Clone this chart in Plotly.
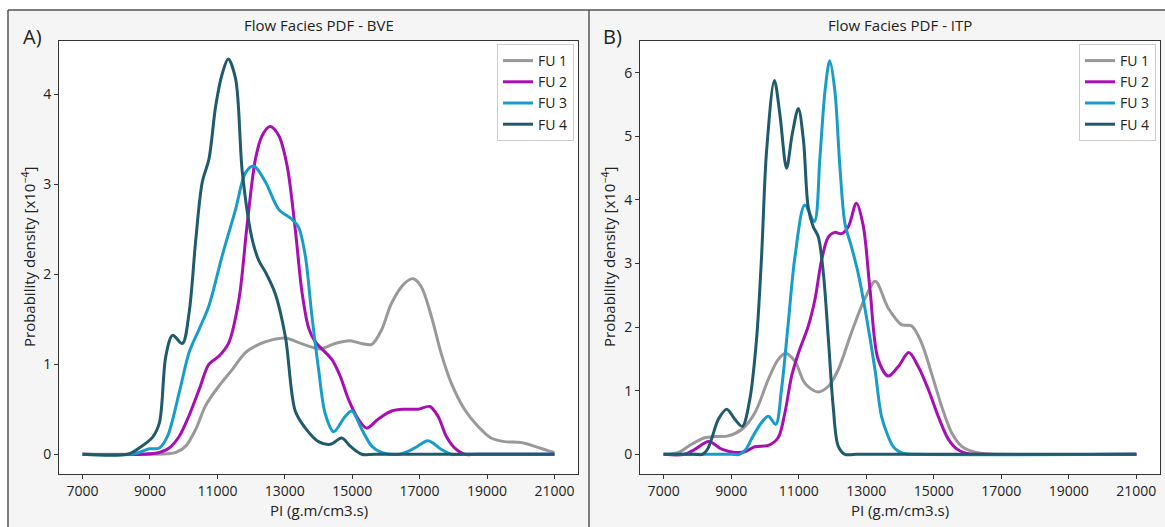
import plotly.graph_objects as go

W, H = 1165, 527

# ---------------- BVE (panel A) ----------------
bve_fu1_x = [7000, 9000, 9500, 9770, 10060, 10360, 10650, 11050, 11440, 11840, 12230, 12620, 13020,
             13410, 13800, 14050, 14490, 14940, 15280, 15580, 15870, 16170, 16560, 16810, 17050,
             17350, 17640, 17940, 18330, 18730, 19120, 19520, 20010, 20400, 20800, 21000]
bve_fu1_y = [0, 0, 0.005, 0.02, 0.09, 0.28, 0.54, 0.76, 0.94, 1.13, 1.22, 1.27, 1.29,
             1.24, 1.19, 1.17, 1.23, 1.26, 1.23, 1.22, 1.38, 1.68, 1.90, 1.95, 1.86,
             1.53, 1.12, 0.79, 0.50, 0.31, 0.18, 0.14, 0.13, 0.09, 0.04, 0.02]

bve_fu2_x = [7000, 8800, 9280, 9570, 9870, 10160, 10460, 10750, 11050, 11340, 11640, 11880, 12130,
             12330, 12560, 12820, 13070, 13310, 13510, 13710, 13900, 14100, 14400, 14640, 14890,
             15180, 15430, 15770, 16170, 16560, 16950, 17300, 17550, 17790, 18040, 18330, 18700, 21000]
bve_fu2_y = [0, 0, 0.02, 0.07, 0.20, 0.43, 0.72, 1.00, 1.09, 1.24, 1.72, 2.54, 3.28,
             3.54, 3.64, 3.54, 3.20, 2.50, 1.80, 1.40, 1.25, 1.17, 1.05, 0.87, 0.61,
             0.39, 0.29, 0.39, 0.48, 0.50, 0.50, 0.53, 0.42, 0.20, 0.07, 0, 0, 0]

bve_fu3_x = [7000, 8380, 8680, 8980, 9280, 9520, 9870, 10160, 10460, 10750, 11140, 11540, 11840,
             12080, 12430, 12820, 13210, 13410, 13610, 13800, 14000, 14200, 14450, 14790, 14990,
             15280, 15580, 15870, 16400, 16860, 17250, 17640, 17940, 18300, 21000]
bve_fu3_y = [0, 0, 0.02, 0.06, 0.07, 0.20, 0.69, 1.13, 1.39, 1.65, 2.20, 2.72, 3.13,
             3.20, 3.02, 2.72, 2.61, 2.52, 2.20, 1.55, 0.95, 0.45, 0.25, 0.42, 0.48,
             0.28, 0.09, 0.02, 0, 0.07, 0.15, 0.055, 0, 0, 0]

bve_fu4_x = [7000, 8330, 8680, 9080, 9280, 9470, 9670, 9960, 10160, 10360, 10550, 10750, 10950,
             11140, 11320, 11540, 11740, 12030, 12230, 12430, 12720, 13020, 13310, 13610, 14000,
             14350, 14690, 14940, 15280, 15700, 21000]
bve_fu4_y = [0, 0, 0.07, 0.19, 0.35, 1.09, 1.32, 1.23, 1.57, 2.39, 3.02, 3.28, 3.87,
             4.22, 4.39, 4.17, 3.13, 2.39, 2.15, 2.02, 1.78, 1.30, 0.48, 0.29, 0.14,
             0.11, 0.18, 0.09, 0, 0, 0]

# ---------------- ITP (panel B) ----------------
itp_fu1_x = [7000, 7140, 7440, 7830, 8220, 8520, 8910, 9310, 9700, 10100, 10390, 10610, 10890,
             11180, 11560, 11880, 12170, 12560, 12960, 13270, 13650, 14040, 14340, 14640, 14930,
             15230, 15530, 15820, 16120, 16500, 17000, 21000]
itp_fu1_y = [0, 0, 0.03, 0.16, 0.26, 0.28, 0.29, 0.39, 0.65, 1.18, 1.49, 1.59, 1.46,
             1.12, 0.98, 1.07, 1.33, 1.91, 2.45, 2.72, 2.30, 2.04, 2.02, 1.75, 1.28,
             0.76, 0.34, 0.13, 0.05, 0.01, 0, 0]

itp_fu2_x = [7000, 7620, 7930, 8340, 8720, 9110, 9410, 9700, 10100, 10390, 10590, 10790, 10990,
             11280, 11480, 11680, 11880, 12070, 12270, 12470, 12710, 12910, 13110, 13350, 13650,
             13950, 14260, 14540, 14840, 15130, 15430, 15720, 16020, 16500, 21000]
itp_fu2_y = [0, 0, 0.08, 0.20, 0.08, 0.03, 0.04, 0.12, 0.14, 0.26, 0.65, 1.23, 1.59,
             2.01, 2.43, 3.06, 3.42, 3.49, 3.47, 3.58, 3.95, 3.60, 2.60, 1.50, 1.23,
             1.38, 1.60, 1.38, 1.02, 0.60, 0.24, 0.07, 0.01, 0, 0]

itp_fu3_x = [7000, 9000, 9250, 9450, 9600, 9900, 10100, 10320, 10490, 10690, 10890, 11180, 11460,
             11630, 11780, 11920, 12070, 12220, 12370, 12560, 12760, 12960, 13260, 13450, 13650,
             13800, 13950, 14150, 14500, 21000]
itp_fu3_y = [0, 0, 0, 0.09, 0.24, 0.50, 0.60, 0.47, 1.02, 2.06, 3.11, 3.92, 3.66,
             4.68, 5.72, 6.19, 5.72, 4.52, 3.63, 3.27, 2.85, 2.30, 1.33, 0.60, 0.28,
             0.12, 0.05, 0.01, 0, 0]

itp_fu4_x = [7000, 7900, 8150, 8300, 8420, 8620, 8870, 9110, 9330, 9550, 9750, 9900, 10050,
             10280, 10440, 10640, 10810, 10990, 11140, 11280, 11430, 11580, 11730, 11880, 12020,
             12170, 12370, 12700, 21000]
itp_fu4_y = [0, 0, 0, 0.08, 0.24, 0.55, 0.71, 0.55, 0.44, 0.86, 1.80, 3.11, 4.78,
             5.88, 5.36, 4.50, 5.04, 5.44, 4.94, 3.89, 3.58, 3.42, 2.85, 1.80, 0.76,
             0.13, 0, 0, 0]

series_names = ["FU 1", "FU 2", "FU 3", "FU 4"]
colors = ["#999999", "#a80fb3", "#189dcb", "#1f5b6d"]

x_ticks = [7000, 9000, 11000, 13000, 15000, 17000, 19000, 21000]
x_tick_labels = ["7000", "9000", "11000", "13000", "15000", "17000", "19000", "21000"]
bve_y_ticks = [0, 1, 2, 3, 4]
itp_y_ticks = [0, 1, 2, 3, 4, 5, 6]

panel_titles = ["Flow Facies PDF - BVE", "Flow Facies PDF - ITP"]
panel_tags = ["A)", "B)"]
x_label = "PI (g.m/cm3.s)"
y_label = "Probability density [x10<sup>−4</sup>]"

FONT = "Open Sans"
TXT = "#222222"


def px_x(v):
    return v / W


def px_y(v):
    return 1 - v / H


fig = go.Figure()

bve = [(bve_fu1_x, bve_fu1_y), (bve_fu2_x, bve_fu2_y), (bve_fu3_x, bve_fu3_y), (bve_fu4_x, bve_fu4_y)]
itp = [(itp_fu1_x, itp_fu1_y), (itp_fu2_x, itp_fu2_y), (itp_fu3_x, itp_fu3_y), (itp_fu4_x, itp_fu4_y)]

for (xs, ys), name, c in zip(bve, series_names, colors):
    fig.add_trace(go.Scatter(x=xs, y=ys, name=name, mode="lines",
                             line=dict(color=c, width=3, shape="spline", smoothing=0.9),
                             xaxis="x", yaxis="y", legend="legend"))
for (xs, ys), name, c in zip(itp, series_names, colors):
    fig.add_trace(go.Scatter(x=xs, y=ys, name=name, mode="lines",
                             line=dict(color=c, width=3, shape="spline", smoothing=0.9),
                             xaxis="x2", yaxis="y2", legend="legend2"))

# plot-area boxes (pixels)
A_box = (59, 578, 41, 474)
B_box = (640, 1160, 41, 474)


def xdom(b):
    return [px_x(b[0]), px_x(b[1])]


def ydom(b):
    return [px_y(b[3]), px_y(b[2])]


axis_common = dict(showline=True, linecolor="#333333", linewidth=1, mirror=True,
                   ticks="outside", ticklen=4, tickcolor="#333333", showgrid=False,
                   zeroline=False, tickfont=dict(family=FONT, size=14, color=TXT))

fig.update_layout(
    xaxis=dict(domain=xdom(A_box), range=[6300, 21700], tickvals=x_ticks, ticktext=x_tick_labels,
               anchor="y", **axis_common),
    yaxis=dict(domain=ydom(A_box), range=[-0.2195, 4.5895], tickvals=bve_y_ticks, anchor="x", **axis_common),
    xaxis2=dict(domain=xdom(B_box), range=[6300, 21700], tickvals=x_ticks, ticktext=x_tick_labels,
                anchor="y2", **axis_common),
    yaxis2=dict(domain=ydom(B_box), range=[-0.3095, 6.4995], tickvals=itp_y_ticks, anchor="x2", **axis_common),
)

legend_style = dict(bgcolor="rgba(255,255,255,0.9)", bordercolor="#cccccc", borderwidth=1,
                    font=dict(family=FONT, size=14, color=TXT), itemwidth=30,
                    xanchor="right", yanchor="top", tracegroupgap=0)
fig.update_layout(
    legend=dict(x=px_x(A_box[1] - 4), y=px_y(A_box[2] + 3), **legend_style),
    legend2=dict(x=px_x(B_box[1] - 4), y=px_y(B_box[2] + 3), **legend_style),
)

shapes = []
# white margins outside the panel frames
shapes.append(dict(type="rect", xref="paper", yref="paper", x0=0, x1=1, y0=px_y(10), y1=1,
                   fillcolor="white", line=dict(width=0), layer="below"))
shapes.append(dict(type="rect", xref="paper", yref="paper", x0=0, x1=px_x(8), y0=0, y1=1,
                   fillcolor="white", line=dict(width=0), layer="below"))
# panel frame lines
for x0, x1, y0, y1 in [(8, 1165, 10, 10), (8, 8, 10, 527), (589, 589, 10, 527)]:
    shapes.append(dict(type="line", xref="paper", yref="paper",
                       x0=px_x(x0), x1=px_x(x1), y0=px_y(y0), y1=px_y(y1),
                       line=dict(color="#555555", width=1.5)))

annotations = []
for box, title, tag, tag_x, ylab_x in [(A_box, panel_titles[0], panel_tags[0], 21, 28),
                                        (B_box, panel_titles[1], panel_tags[1], 601, 608)]:
    cx = (box[0] + box[1]) / 2
    annotations.append(dict(text=title, x=px_x(cx), y=px_y(25), xref="paper", yref="paper",
                            showarrow=False, xanchor="center", yanchor="middle",
                            font=dict(family=FONT, size=15, color=TXT)))
    annotations.append(dict(text=tag, x=px_x(tag_x), y=px_y(37), xref="paper", yref="paper",
                            showarrow=False, xanchor="left", yanchor="middle",
                            font=dict(family=FONT, size=20, color=TXT)))
    annotations.append(dict(text=x_label, x=px_x(cx), y=px_y(510), xref="paper", yref="paper",
                            showarrow=False, xanchor="center", yanchor="middle",
                            font=dict(family=FONT, size=15, color=TXT)))
    annotations.append(dict(text=y_label, x=px_x(ylab_x), y=px_y(257), xref="paper", yref="paper",
                            showarrow=False, xanchor="center", yanchor="middle", textangle=-90,
                            font=dict(family=FONT, size=15, color=TXT)))

fig.update_layout(
    width=W, height=H, margin=dict(l=0, r=0, t=0, b=0),
    paper_bgcolor="#f5f5f5", plot_bgcolor="white",
    shapes=shapes, annotations=annotations, showlegend=True,
    font=dict(family=FONT, color=TXT),
)

fig.write_html("out.html", config={"displayModeBar": False})
